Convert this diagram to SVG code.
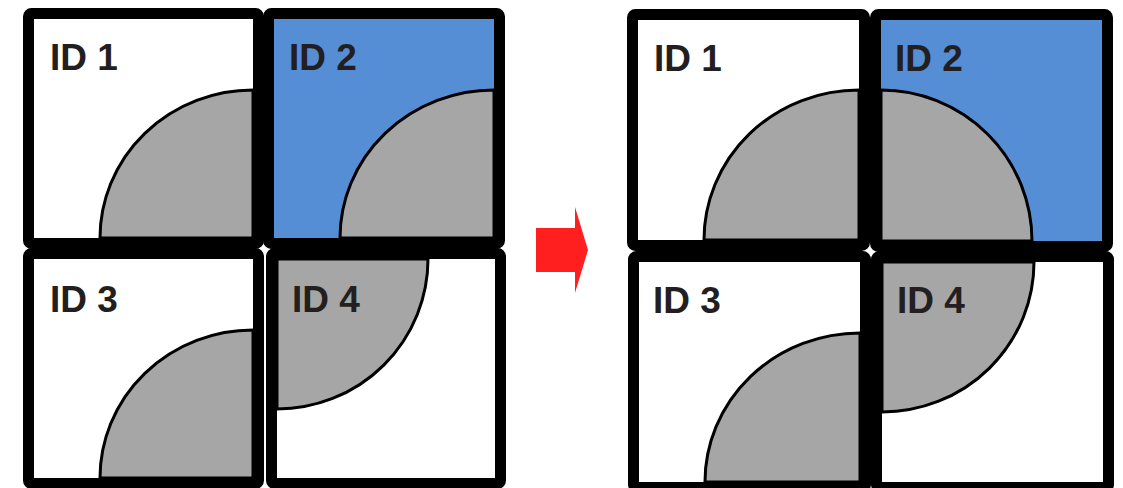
<svg xmlns="http://www.w3.org/2000/svg" width="1123" height="488" viewBox="0 0 1123 488">
<style>
.w{fill:#ffffff}
.b{fill:#558ed5}
.g{fill:#a6a6a6;stroke:#000;stroke-width:3}
.f{fill:none;stroke:#000;stroke-width:11;stroke-linejoin:round}
.t{font-family:"Liberation Sans",Arial,sans-serif;font-weight:bold;font-size:37px;fill:#231f20}
</style>
<rect width="1123" height="488" fill="#ffffff"/>
<g id="left-id1">
<rect class="w" x="34" y="19" width="219" height="219"/>
<path class="g" d="M253,238 L253,90 A153,148 0 0 0 100,238 Z"/>
<rect class="f" x="28.5" y="13.5" width="230" height="230" rx="3"/>
<text class="t" x="50" y="70">ID 1</text>
</g>
<g id="left-id2">
<rect class="b" x="274" y="19" width="220" height="219"/>
<path class="g" d="M494,238 L494,90 A154,148 0 0 0 340,238 Z"/>
<rect class="f" x="268.5" y="13.5" width="231" height="230" rx="3"/>
<text class="t" x="289" y="70">ID 2</text>
</g>
<g id="left-id3">
<rect class="w" x="34" y="259" width="219" height="219"/>
<path class="g" d="M253,478 L253,330 A153,148 0 0 0 100,478 Z"/>
<rect class="f" x="28.5" y="253.5" width="230" height="230" rx="3"/>
<text class="t" x="50" y="312">ID 3</text>
</g>
<g id="left-id4">
<rect class="w" x="277" y="259" width="218" height="219"/>
<path class="g" d="M277,259 L428,259 A151,150 0 0 1 277,409 Z"/>
<rect class="f" x="271.5" y="253.5" width="229" height="230" rx="3"/>
<text class="t" x="292" y="312">ID 4</text>
</g>
<g id="connectors">
<path d="M536,228 L575,228 L575,207 L588,250 L575,293 L575,272 L536,272 Z" fill="#ff1f1f"/>
</g>
<g id="right-id1">
<rect class="w" x="638" y="20" width="221" height="220"/>
<path class="g" d="M859,240 L859,90 A155,150 0 0 0 704,240 Z"/>
<rect class="f" x="632.5" y="14.5" width="232" height="231" rx="3"/>
<text class="t" x="654" y="71">ID 1</text>
</g>
<g id="right-id2">
<rect class="b" x="881" y="20" width="221" height="221"/>
<path class="g" d="M881,241 L881,90 A151,151 0 0 1 1032,241 Z"/>
<rect class="f" x="875.5" y="14.5" width="232" height="232" rx="3"/>
<text class="t" x="895" y="71">ID 2</text>
</g>
<g id="right-id3">
<rect class="w" x="639" y="262" width="221" height="220"/>
<path class="g" d="M860,482 L860,333 A155,149 0 0 0 705,482 Z"/>
<rect class="f" x="633.5" y="256.5" width="232" height="231" rx="3"/>
<text class="t" x="653" y="313">ID 3</text>
</g>
<g id="right-id4">
<rect class="w" x="882" y="262" width="221" height="220"/>
<path class="g" d="M882,262 L1034,262 A152,150 0 0 1 882,412 Z"/>
<rect class="f" x="876.5" y="256.5" width="232" height="231" rx="3"/>
<text class="t" x="897" y="313">ID 4</text>
</g>
</svg>
